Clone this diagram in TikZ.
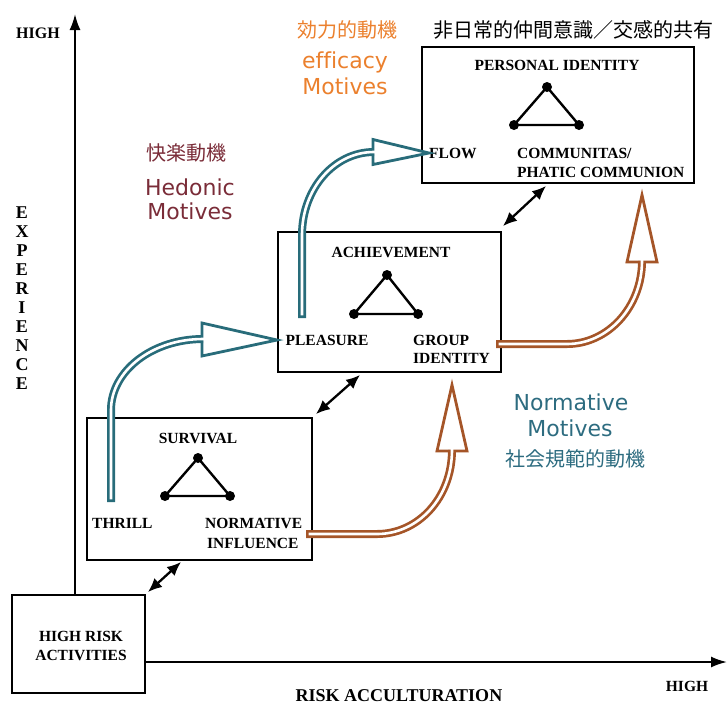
\documentclass[tikz,border=0pt]{standalone}
\usepackage{fontspec}
\setmainfont{Liberation Serif}
\newfontfamily\sansf[Ligatures=NoCommon]{DejaVu Sans}
\newfontfamily\cjk{Noto Sans CJK JP}
\usetikzlibrary{arrows.meta,calc}
\definecolor{tubeteal}{RGB}{40,108,122}
\definecolor{tubebrown}{RGB}{165,85,40}
\definecolor{efforange}{RGB}{235,128,45}
\definecolor{hedmaroon}{RGB}{122,44,56}
\definecolor{normteal}{RGB}{45,108,128}
\tikzset{
  box/.style 2 args={draw, line width=1.9pt, rectangle, inner sep=0pt, minimum width=#1, minimum height=#2},
  lbl/.style={font=\fontsize{15.5}{19}\selectfont\bfseries, inner sep=0pt},
  biglbl/.style={font=\fontsize{18}{22}\selectfont\bfseries, inner sep=0pt},
  cjktxt/.style={font=\cjk\fontsize{20}{24}\selectfont, inner sep=0pt},
  sanstxt/.style={font=\sansf\fontsize{22}{26}\selectfont, inner sep=0pt},
  dot/.style={circle, fill=black, inner sep=0pt, minimum size=10pt},
  tri/.style={line width=2.4pt},
  dbl/.style={line width=2.3pt, >={Latex[length=14pt,width=12pt]}, <->},
  axis/.style={line width=2pt, -{Latex[length=16pt,width=11pt]}},
  tubeout/.style={line width=8pt, draw=#1},
  tubein/.style={line width=2.6pt, draw=white, shorten <=2.7pt},
  openhead/.style={draw=#1, fill=white, line width=2.8pt, line join=miter}
}
\begin{document}
\begin{tikzpicture}[x=1pt,y=-1pt]
\useasboundingbox (0,0) rectangle (727,705);

% boxes
\node[box={133pt}{98pt}]  (hr)   at (78.5,644) {};
\node[box={225pt}{142pt}] (surv) at (199.5,489) {};
\node[box={223pt}{140pt}] (ach)  at (389.5,302) {};
\node[box={272pt}{136pt}] (pers) at (558,115) {};

% axes
\coordinate (ytop) at (75,14);
\coordinate (xend) at (727,662);
\draw[axis] (ytop |- hr.north) -- (ytop);
\draw[axis] (hr.east |- xend) -- (xend);

% axis labels
\node[lbl, font=\fontsize{16}{19}\selectfont\bfseries] (hightop) at (38,33) {HIGH};
\node[lbl] (highbot) at (687,686) {HIGH};
\node[biglbl] (riskacc) at (399,696) {RISK ACCULTURATION};
\foreach \ch [count=\i from 0] in {E,X,P,E,R,I,E,N,C,E}
  \node[lbl, font=\fontsize{18}{20}\selectfont\bfseries] (exp\i) at (22,213+19*\i) {\ch};

% box texts
\node[lbl, align=center] (hrtxt) at (81,645.5) {HIGH RISK\\ACTIVITIES};

\node[lbl] (survt) at (198,438) {SURVIVAL};
\node[lbl, anchor=west] (thrill) at (92,523) {THRILL};
\node[lbl, anchor=west] (norm1) at (205,523) {NORMATIVE};
\node[lbl, anchor=west] (norm2) at (207,543) {INFLUENCE};

\node[lbl] (acht) at (391,252) {ACHIEVEMENT};
\node[lbl] (pleas) at (327,340) {PLEASURE};
\node[lbl, anchor=west] (grp1) at (413,340) {GROUP};
\node[lbl, anchor=west] (grp2) at (413,358) {IDENTITY};

\node[lbl] (perst) at (557,65) {PERSONAL IDENTITY};
\node[lbl, anchor=west] (flow) at (429,153) {FLOW};
\node[lbl, anchor=west] (comm1) at (517,153) {COMMUNITAS/};
\node[lbl, anchor=west] (comm2) at (517,172) {PHATIC COMMUNION};

% triangles
\node[dot] (s1) at (198,458) {};
\node[dot] (s2) at (165,496) {};
\node[dot] (s3) at (230,496) {};
\draw[tri] (s1.center) -- (s2.center) -- (s3.center) -- cycle;
\node[dot] (a1) at (387,275) {};
\node[dot] (a2) at (354,314) {};
\node[dot] (a3) at (418,314) {};
\draw[tri] (a1.center) -- (a2.center) -- (a3.center) -- cycle;
\node[dot] (p1) at (547,87) {};
\node[dot] (p2) at (514,125) {};
\node[dot] (p3) at (579,125) {};
\draw[tri] (p1.center) -- (p2.center) -- (p3.center) -- cycle;

% double arrows between stages
\draw[dbl] ($(hr.north east)+(2,-2)$) -- ($(surv.south west)+(95,1)$);
\draw[dbl] ($(surv.north east)+(3,-3)$) -- ($(ach.south west)+(83,2)$);
\draw[dbl] ($(ach.north east)+(1,-5)$) -- ($(pers.south west)+(125,2)$);

% teal tube 1 (thrill -> pleasure)
\coordinate (t1s) at (111,502);
\draw[openhead=tubeteal] (202,323) -- (pleas.west -| ach.west) -- (202,356) -- cycle;
\draw[tubeout=tubeteal] (t1s) -- (111,410) .. controls (111,371) and (152,339) .. (203,339);
\draw[tubein] (t1s) -- (111,410) .. controls (111,371) and (152,339) .. (203,339) -- (206,339);

% teal tube 2 (pleasure -> flow)
\coordinate (t2s) at (302,318);
\draw[openhead=tubeteal] (373,139.5) -- (flow.west) -- (373,164.5) -- cycle;
\draw[tubeout=tubeteal] (t2s) -- (302,235) .. controls (302,189) and (334,152) .. (374,152);
\draw[tubein] (t2s) -- (302,235) .. controls (302,189) and (334,152) .. (374,152) -- (377,152);

% brown tube 1 (normative influence -> group identity)
\coordinate (b1s) at (306,534);
\coordinate (b1t) at (452,385);
\draw[openhead=tubebrown] (437,451) -- (b1t) -- (467,451) -- cycle;
\draw[tubeout=tubebrown] (b1s) -- (377,534) .. controls (418,534) and (452,498) .. (452,450);
\draw[tubein] (b1s) -- (377,534) .. controls (418,534) and (452,498) .. (452,450) -- (452,447);

% brown tube 2 (group identity -> communitas)
\coordinate (b2s) at (496,344);
\coordinate (b2t) at (642,195);
\draw[openhead=tubebrown] (627,262) -- (b2t) -- (657,262) -- cycle;
\draw[tubeout=tubebrown] (b2s) -- (567,344) .. controls (608,344) and (642,307) .. (642,261);
\draw[tubein] (b2s) -- (567,344) .. controls (608,344) and (642,307) .. (642,261) -- (642,258);

% motive labels
\node[cjktxt, text=efforange] (effja) at (347,30) {効力的動機};
\node[sanstxt, text=efforange] (eff1) at (345,62) {efficacy};
\node[sanstxt, text=efforange] (eff2) at (345,86) {Motives};

\node[cjktxt, text=hedmaroon] (hedja) at (186,153) {快楽動機};
\node[sanstxt, text=hedmaroon] (hed1) at (190,187) {Hedonic};
\node[sanstxt, text=hedmaroon] (hed2) at (190,211) {Motives};

\node[sanstxt, text=normteal] (nor1) at (571,402) {Normative};
\node[sanstxt, text=normteal] (nor2) at (570,428) {Motives};
\node[cjktxt, text=normteal] (norja) at (575,459) {社会規範的動機};

\node[cjktxt] (persja) at (573,30) {非日常的仲間意識／交感的共有};
\end{tikzpicture}
\end{document}
